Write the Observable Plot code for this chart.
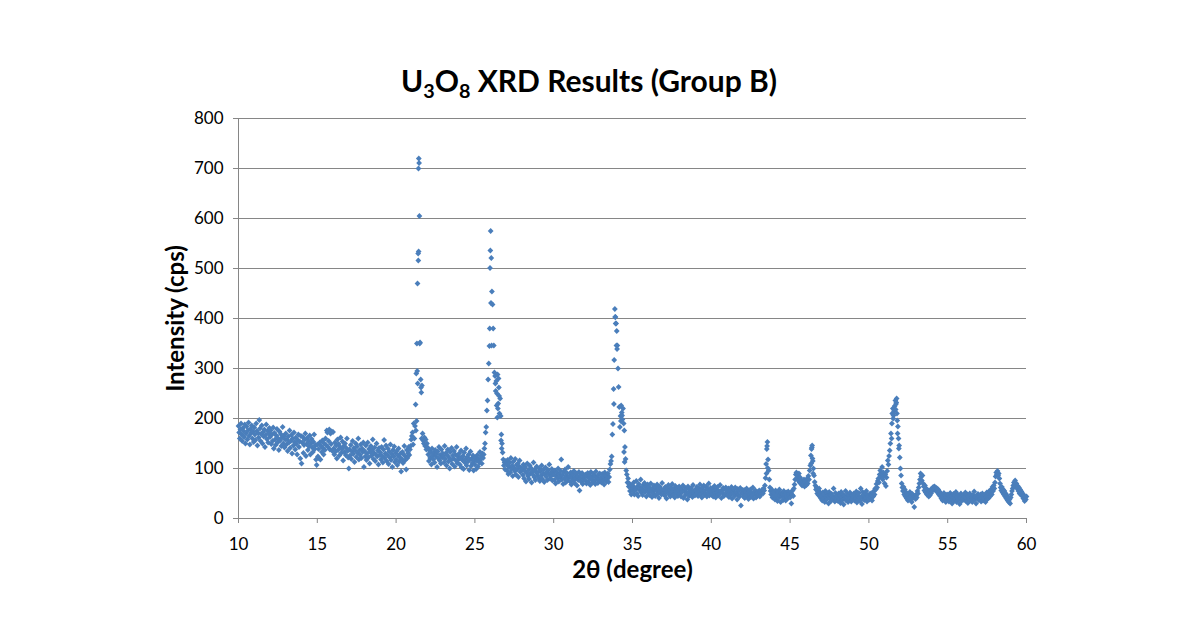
<!DOCTYPE html>
<html><head><meta charset="utf-8">
<script src="https://cdn.jsdelivr.net/npm/d3@7"></script>
<script src="https://cdn.jsdelivr.net/npm/@observablehq/plot@0.6"></script>
<style>
body{margin:0;background:#fff;font-family:Lato, "Open Sans", sans-serif;}
#title{height:100px;position:relative;}
#title span{position:absolute;left:0;width:1178px;text-align:center;top:63px;line-height:34px;font-size:30px;font-weight:bold;color:#000;white-space:nowrap;}
#title sub{font-size:0.66em;vertical-align:baseline;position:relative;top:0.3em;}
</style></head><body>
<div id="title"><span>U<sub>3</sub>O<sub>8</sub> XRD Results (Group B)</span></div>
<div id="chart"></div>
<script>
// Scan: 2θ from each segment start, step 0.04°
const scanStep = 0.04;
const segStarts = [10, 15, 20, 25, 30, 35, 40, 45, 50, 55];
const seg10 = [185,172,160,178,190,168,155,181,175,163,188,150,170,184,158,176,192,165,148,179,171,186,160,174,153,
182,168,157,190,175,146,171,162,197,180,155,169,186,150,173,164,178,143,167,188,159,175,152,170,181,
163,176,149,168,155,182,140,171,158,147,166,179,152,160,137,174,156,169,145,162,183,150,165,142,158,
170,148,158,135,164,152,176,141,155,167,130,160,146,172,153,138,162,149,128,157,168,143,154,120,165,
110,152,163,131,147,158,170,125,149,161,137,155,144,166,128,150,159,142,133,153,168,139,146,118,107];
const seg15 = [148,124,139,120,152,118,145,133,156,141,128,150,137,160,147,176,172,143,155,178,138,170,149,174,135,
173,140,128,152,134,146,120,158,137,149,126,143,162,131,139,154,116,145,133,150,127,141,160,135,122,
100,138,126,147,119,134,155,129,141,113,136,150,123,144,131,160,118,137,127,148,121,140,133,152,103,
135,124,146,117,130,152,122,139,110,133,145,126,137,158,119,131,142,115,128,150,124,136,108,141,127,
132,118,143,125,112,138,157,121,130,146,115,127,140,109,134,122,148,117,129,103,137,124,144,113,131];
const seg20 = [118,135,107,126,140,114,122,130,94,119,133,111,128,145,116,124,98,137,121,131,143,127,138,145,158,
165,172,148,190,160,185,228,290,350,470,530,720,605,352,278,252,266,170,156,150,162,145,158,138,150,
142,128,115,136,121,133,108,140,126,118,131,112,137,124,129,103,134,120,143,116,127,110,138,122,130,
125,112,145,119,131,106,127,138,114,122,100,133,117,141,109,126,120,135,104,128,116,143,111,124,118,
130,108,121,136,102,117,125,99,132,112,119,140,106,123,114,128,97,118,134,105,120,111,126,96,115];
const seg25 = [108,122,99,116,127,104,119,112,133,118,125,110,130,121,128,140,150,172,183,216,236,278,310,345,501,
575,521,454,428,380,346,292,285,255,275,250,288,230,262,210,240,205,168,150,132,118,106,112,98,115,
108,96,117,89,103,112,92,121,99,106,85,114,101,95,119,88,107,98,110,83,104,116,93,102,97,
99,87,108,80,95,103,74,91,110,85,97,79,106,90,101,72,94,88,112,83,98,77,93,104,86,
92,81,100,75,95,86,106,79,90,98,73,88,102,84,93,77,97,89,108,80,91,85,99,76,94];
const seg30 = [88,77,96,70,85,92,81,100,74,89,83,95,118,78,87,69,93,80,98,72,86,91,76,103,82,
85,74,92,68,81,88,76,95,71,83,79,90,66,84,77,93,56,80,87,73,91,69,82,78,86,
76,88,70,84,91,73,80,86,67,93,78,82,72,89,75,85,69,94,79,83,71,87,77,90,74,
81,72,89,76,84,68,92,78,86,74,80,90,73,83,98,109,115,124,168,189,259,317,419,403,390,
375,346,300,263,223,183,205,226,212,198,220,190,176,143,119,96,88,72,80,64,70,55,66,48,60];
const seg35 = [66,55,72,48,61,58,75,50,64,45,69,57,62,78,52,60,47,67,56,71,53,63,44,59,68,
52,63,47,58,70,54,43,61,50,66,57,45,62,55,68,49,59,41,64,53,60,48,71,56,51,
58,46,63,52,40,60,55,67,48,57,44,62,51,69,53,47,59,42,65,54,50,61,45,56,64,
49,60,44,57,53,66,41,55,62,47,58,51,38,64,52,45,59,48,61,54,43,67,50,56,46,
57,48,63,52,45,60,55,68,49,58,42,62,53,66,47,56,50,64,44,59,51,70,46,55,61];
const seg40 = [53,47,60,44,56,65,50,42,58,52,63,46,55,49,67,54,41,57,51,61,45,59,48,62,50,
55,46,60,43,52,57,48,63,40,54,50,58,45,62,49,53,38,59,47,56,44,61,26,51,57,
50,44,57,41,53,47,60,45,52,39,55,48,58,43,51,46,62,40,54,49,56,42,50,45,53,
47,56,44,52,49,52,58,50,60,56,66,81,109,139,153,118,96,78,62,55,48,58,42,52,45,
50,38,56,43,47,35,53,41,58,46,33,51,44,49,37,55,42,48,36,52,45,40,54,47,50];
const seg45 = [42,52,30,48,56,45,60,68,78,88,92,80,86,76,90,72,82,70,76,66,74,68,78,64,72,
75,67,80,70,85,78,96,106,126,139,146,115,100,86,73,66,58,62,50,55,47,60,44,52,40,
45,36,52,40,48,33,55,43,38,50,46,30,53,41,47,35,49,44,39,60,42,34,51,45,37,
44,35,50,39,46,31,53,42,37,48,28,45,40,55,36,43,49,33,47,38,52,41,34,46,39,
43,50,36,47,40,54,32,45,38,51,42,35,60,44,29,53,39,46,37,49,41,55,34,47,44];
const seg50 = [45,38,50,42,47,36,52,44,55,48,60,58,69,62,75,80,72,88,96,84,90,103,78,92,85,
70,88,65,82,95,116,108,125,136,150,170,160,210,220,206,215,225,236,229,240,196,184,160,146,122,
100,86,70,62,55,63,48,58,44,52,40,50,36,47,42,53,38,45,33,49,41,46,23,44,39,
48,42,55,50,62,70,78,90,84,76,86,70,64,56,66,52,60,48,57,50,44,55,47,58,51,
56,60,63,58,64,57,62,55,60,52,58,48,54,45,50,40,47,36,44,51,38,46,33,42,48];
const seg55 = [40,47,34,44,51,37,45,30,42,49,36,46,39,53,33,43,48,38,45,29,41,50,35,44,40,
46,37,43,52,35,41,48,31,44,39,50,36,45,42,33,47,40,54,38,43,30,46,41,49,37,
44,38,48,34,42,50,36,45,40,47,33,43,52,39,46,41,55,44,50,58,48,63,55,66,60,
72,84,92,88,95,86,90,80,70,62,56,63,52,58,48,55,44,50,40,46,36,42,33,38,30,
42,48,55,60,66,72,64,76,68,70,60,65,55,62,50,58,48,54,45,50,40,46,35,43,38,
44];
// additional readings on the peaks (denser sampling there)
const peakX = [21.42,21.46,21.41,21.43,21.50,21.34,21.37,21.30,21.26,21.58,21.62,25.98,26.02,26.06,25.94,26.30,26.46,26.50,26.42,26.54,26.38,26.66,26.70,33.90,33.93,33.98,34.02,33.82,34.46,34.50,34.34,34.26,43.54,43.58,43.50,46.38,46.42,46.34,46.46,51.90,51.74,51.70,51.78,51.82,51.54,51.46];
const peakY = [700,711,516,534,350,295,270,195,176,262,160,536,431,346,380,270,220,280,202,245,226,156,140,403,390,346,339,229,133,113,206,195,145,101,90,142,120,110,90,140,232,218,210,170,200,190];

const xTicks = [10, 15, 20, 25, 30, 35, 40, 45, 50, 55, 60];
const yTicks = [0, 100, 200, 300, 400, 500, 600, 700, 800];
const gridTicks = [100, 200, 300, 400, 500, 600, 700, 800];

const segs = [seg10, seg15, seg20, seg25, seg30, seg35, seg40, seg45, seg50, seg55];
const data = [];
segs.forEach((arr, k) => arr.forEach((v, i) => data.push({x: +(segStarts[k] + i * scanStep).toFixed(2), y: v})));
peakX.forEach((x, i) => data.push({x, y: peakY[i]}));

const lineColor = "#868686";
const chart = Plot.plot({
  width: 1190, height: 522,
  marginLeft: 238, marginRight: 164, marginTop: 18, marginBottom: 104,
  x: {domain: [10, 60]},
  y: {domain: [0, 800]},
  style: {fontFamily: "Lato, 'Open Sans', sans-serif", fontSize: "17px", color: "#000", background: "#fff"},
  marks: [
    Plot.gridY(gridTicks, {stroke: lineColor, strokeOpacity: 1, strokeWidth: 1}),
    Plot.ruleX([10], {stroke: lineColor}),
    Plot.ruleY([0], {stroke: lineColor}),
    Plot.axisY(yTicks, {tickSize: 5, tickPadding: 10, stroke: lineColor, fill: "#000", label: null}),
    Plot.axisX(xTicks, {tickSize: 5, tickPadding: 14, stroke: lineColor, fill: "#000", label: null}),
    Plot.dot(data, {x: "x", y: "y", symbol: "diamond2", r: 2.6, fill: "#4a7ebb", stroke: "none"}),
    Plot.text(["2θ (degree)"], {text: d => d, frameAnchor: "bottom", dy: 59, fontSize: 24, fontWeight: "bold", fill: "#000"}),
    Plot.text(["Intensity (cps)"], {text: d => d, frameAnchor: "left", textAnchor: "middle", dx: -62, rotate: -90, fontSize: 24, fontWeight: "bold", fill: "#000"})
  ]
});
document.getElementById("chart").appendChild(chart);
</script>
</body></html>
